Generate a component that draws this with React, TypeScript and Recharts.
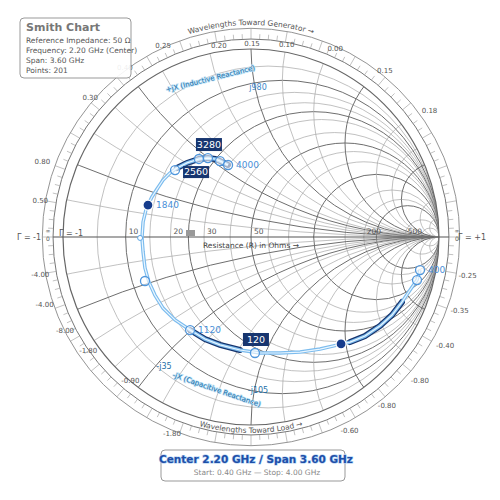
import React from 'react';
import { ScatterChart, Scatter, XAxis, YAxis, Customized } from 'recharts';

const W = 500;
const H = 500;
const CX = 251;
const CY = 237;
const K = 188; // pixels per unit of |Γ|

const FONT = '"DejaVu Sans", "Noto Sans", sans-serif';

// measured reflection coefficient, 0.40 → 4.00 GHz
const traceRe = [
  0.899, 0.883, 0.846, 0.803, 0.75, 0.686, 0.606, 0.527, 0.463, 0.367, 0.261, 0.154, 0.048,
  -0.059, -0.165, -0.245, -0.324, -0.404, -0.468, -0.511, -0.543, -0.564, -0.574, -0.58,
  -0.574, -0.559, -0.548, -0.527, -0.5, -0.468, -0.431, -0.394, -0.34, -0.277, -0.229,
  -0.191, -0.165, -0.122,
];
const traceIm = [
  -0.176, -0.229, -0.282, -0.346, -0.415, -0.473, -0.527, -0.559, -0.574, -0.596, -0.612,
  -0.617, -0.617, -0.601, -0.574, -0.543, -0.495, -0.441, -0.378, -0.309, -0.239, -0.165,
  -0.08, -0.005, 0.08, 0.144, 0.17, 0.213, 0.255, 0.303, 0.34, 0.367, 0.394, 0.415, 0.42,
  0.415, 0.404, 0.383,
];
// stretches of the trace drawn with the dark underlay
const darkRanges = [[3, 7], [13, 16], [31, 37]];

const markerRe = [0.899, 0.883, 0.479, 0.021, -0.324, -0.564, -0.59, -0.548, -0.404, -0.277, -0.229, -0.165, -0.122];
const markerIm = [-0.176, -0.229, -0.569, -0.617, -0.495, -0.234, -0.005, 0.17, 0.356, 0.415, 0.42, 0.404, 0.383];
const markerLabels = ['400', '', '', '120', '1120', '', '', '1840', '2560', '', '3280', '', '4000'];
const markerKinds = ['ring', 'ring', 'dot', 'ring', 'ring', 'ring', 'small', 'dot', 'ring', 'ring', 'ring', 'ring', 'ring'];
const markerSides = ['right', '', '', 'box', 'right', '', '', 'right', 'dark', '', 'box', '', 'right'];

const resistanceTicks = [10, 20, 30, 50, 200, 500];
const rCircles = [0.1, 0.2, 0.3, 0.4, 0.5, 0.6, 0.8, 1, 1.2, 1.5, 2, 3, 4, 5, 10, 20];
const xArcs = [0.1, 0.2, 0.3, 0.4, 0.5, 0.6, 0.8, 1, 1.2, 1.5, 2, 3, 4, 5, 10, 20];
const majorValues = [0.2, 0.5, 1, 2, 5];

const ringLabels = [
  '0.25', '0.20', '0.15', '0.10', '0.00', '0.15', '0.18', '0.40', '0.30', '0.80', '0.50',
  '-4.00', '-4.00', '-8.00', '-1.80', '-0.90', '-1.80', '-0.25', '-0.35', '-0.40', '-0.80',
  '-0.80', '-0.60',
];
const ringAngles = [
  114.6, 99.5, 89.7, 79.5, 66, 51.3, 35.4, 126.5, 139, 160, 170, 190, 198, 206.6, 214.7,
  229.8, 248, 350, 340.7, 331, 319.8, 309, 297,
];
const ringRadii = [
  211, 195, 194, 196, 207, 214, 219, 212, 213, 222, 214, 214, 217, 208, 198, 187, 211,
  220, 221, 222, 221, 216, 217,
];

const trace = traceRe.map((x, i) => ({ x, y: traceIm[i] }));
const markers = markerRe.map((x, i) => ({
  x,
  y: markerIm[i],
  label: markerLabels[i],
  kind: markerKinds[i],
  side: markerSides[i],
}));

const px = (a: number) => CX + K * a;
const polar = (deg: number, r: number) => {
  const t = (deg * Math.PI) / 180;
  return [CX + r * Math.cos(t), CY - r * Math.sin(t)];
};

const SmithGrid = () => {
  const ticks = [];
  for (let d = 0; d < 360; d += 2.5) {
    const long = d % 10 === 0;
    const [x1, y1] = polar(d, K * 1.053);
    const [x2, y2] = polar(d, long ? K * 1.11 : K * 1.08);
    ticks.push(<line key={d} x1={x1} y1={y1} x2={x2} y2={y2} stroke="#999" strokeWidth={0.6} />);
  }
  const topArc = `M ${polar(150, 212).join(' ')} A 212 212 0 0 1 ${polar(30, 212).join(' ')}`;
  const botArc = `M ${polar(215, 199).join(' ')} A 199 199 0 0 0 ${polar(325, 199).join(' ')}`;
  return (
    <g fontFamily={FONT}>
      <defs>
        <clipPath id="unitDisc">
          <circle cx={CX} cy={CY} r={K} />
        </clipPath>
        <path id="topArc" d={topArc} />
        <path id="botArc" d={botArc} />
      </defs>
      <g clipPath="url(#unitDisc)" fill="none">
        {rCircles.map((r) => (
          <circle
            key={'r' + r}
            cx={CX + (K * r) / (1 + r)}
            cy={CY}
            r={K / (1 + r)}
            stroke={majorValues.includes(r) ? '#6e6e6e' : '#a6a6a6'}
            strokeWidth={majorValues.includes(r) ? 1 : 0.7}
          />
        ))}
        {xArcs.flatMap((x) => [x, -x]).map((x) => (
          <circle
            key={'x' + x}
            cx={CX + K}
            cy={CY - K / x}
            r={K / Math.abs(x)}
            stroke={majorValues.includes(Math.abs(x)) ? '#6e6e6e' : '#a6a6a6'}
            strokeWidth={majorValues.includes(Math.abs(x)) ? 1 : 0.7}
          />
        ))}
      </g>
      <circle cx={CX} cy={CY} r={K} fill="none" stroke="#666" strokeWidth={1.2} />
      <circle cx={CX} cy={CY} r={K * 1.053} fill="none" stroke="#777" strokeWidth={1} />
      <circle cx={CX} cy={CY} r={K * 1.11} fill="none" stroke="#888" strokeWidth={0.9} />
      {ticks}
      <line x1={CX - K * 1.053} y1={CY} x2={CX + K * 1.053} y2={CY} stroke="#555" strokeWidth={1.2} />
      {resistanceTicks.map((r) => {
        const g = (r / 50 - 1) / (r / 50 + 1);
        return (
          <text key={r} x={px(g) + 3} y={CY - 3} fontSize={7.5} fill="#555">
            {r}
          </text>
        );
      })}
      <text x={CX} y={CY + 11} fontSize={7.5} fill="#444" textAnchor="middle">
        Resistance (R) in Ohms →
      </text>
      <rect x={186} y={230} width={9} height={6} fill="#999" />
      {ringLabels.map((t, i) => {
        const [x, y] = polar(ringAngles[i], ringRadii[i]);
        return (
          <text key={i} x={x} y={y + 3} fontSize={7} fill="#555" textAnchor="middle">
            {t}
          </text>
        );
      })}
      <text fontSize={7.5} fill="#555">
        <textPath href="#topArc" startOffset="50%" textAnchor="middle">
          Wavelengths Toward Generator →
        </textPath>
      </text>
      <text fontSize={7.5} fill="#555" dy={-3}>
        <textPath href="#botArc" startOffset="50%" textAnchor="middle">
          Wavelengths Toward Load →
        </textPath>
      </text>
      <text x={29} y={240} fontSize={8} fill="#555" textAnchor="middle">Γ = -1</text>
      <text x={71} y={236} fontSize={8} fill="#555" textAnchor="middle">Γ = -1</text>
      <text x={472} y={240} fontSize={8} fill="#555" textAnchor="middle">Γ = +1</text>
      <text x={48} y={233} fontSize={6} fill="#555" textAnchor="middle">∞</text>
      <text x={48} y={241} fontSize={6} fill="#555" textAnchor="middle">0</text>
      <text x={457} y={233} fontSize={6} fill="#555" textAnchor="middle">∞</text>
      <text x={457} y={241} fontSize={6} fill="#555" textAnchor="middle">0</text>
    </g>
  );
};

const Annotations = () => (
  <g fontFamily={FONT}>
    <text
      x={211}
      y={81}
      fontSize={7}
      fill="#1d6fa8"
      stroke="#bfe3f7"
      strokeWidth={1.5}
      paintOrder="stroke"
      textAnchor="middle"
      transform="rotate(-14 211 81)"
    >
      +jX (Inductive Reactance)
    </text>
    <text x={258} y={90} fontSize={8} fill="#3b86c9" textAnchor="middle">j980</text>
    <text
      x={216}
      y={392}
      fontSize={7}
      fill="#1d6fa8"
      stroke="#bfe3f7"
      strokeWidth={1.5}
      paintOrder="stroke"
      textAnchor="middle"
      transform="rotate(19 216 392)"
    >
      -jX (Capacitive Reactance)
    </text>
    <text x={164} y={369} fontSize={8} fill="#1d6fa8" textAnchor="middle">-j35</text>
    <text x={258} y={393} fontSize={8} fill="#1d6fa8" textAnchor="middle">-j105</text>

    <rect x={20} y={18} width={111} height={60} rx={4} fill="#fff" fillOpacity={0.9} stroke="#999" />
    <text x={26} y={31} fontSize={11} fontWeight="bold" fill="#777">Smith Chart</text>
    <text x={26} y={43} fontSize={7.5} fill="#555">Reference Impedance: 50 Ω</text>
    <text x={26} y={53} fontSize={7.5} fill="#555">Frequency: 2.20 GHz (Center)</text>
    <text x={26} y={63} fontSize={7.5} fill="#555">Span: 3.60 GHz</text>
    <text x={26} y={73} fontSize={7.5} fill="#555">Points: 201</text>

    <rect x={161} y={450} width={184} height={31} rx={4} fill="#fff" stroke="#999" />
    <text
      x={256}
      y={463}
      fontSize={10.5}
      fontWeight="bold"
      fill="#1e4fa8"
      stroke="#a9cdf2"
      strokeWidth={1.2}
      paintOrder="stroke"
      textAnchor="middle"
    >
      Center 2.20 GHz  /  Span 3.60 GHz
    </text>
    <text x={257} y={475} fontSize={7.5} fill="#888" textAnchor="middle">
      Start: 0.40 GHz — Stop: 4.00 GHz
    </text>
  </g>
);

const NoShape = () => <g />;

const MarkerShape = (props: any) => {
  const { cx, cy, payload } = props;
  const { kind, label, side } = payload;
  let mark;
  if (kind === 'dot') {
    mark = <circle cx={cx} cy={cy} r={5} fill="#163c8c" stroke="#fff" strokeWidth={1.2} />;
  } else if (kind === 'small') {
    mark = <circle cx={cx} cy={cy} r={2.5} fill="#fff" stroke="#5aa6e6" strokeWidth={1} />;
  } else {
    mark = <circle cx={cx} cy={cy} r={4.5} fill="#fff" fillOpacity={0.6} stroke="#4f96dc" strokeWidth={1.3} />;
  }
  let text = null;
  if (label && side === 'right') {
    text = (
      <text x={cx + 8} y={cy + 3} fontSize={9} fill="#4a8fd8" fontFamily={FONT}>
        {label}
      </text>
    );
  } else if (label && side === 'box') {
    text = (
      <g fontFamily={FONT}>
        <rect x={cx - 12} y={cy - 20} width={26} height={13} fill="#17356f" />
        <text x={cx + 1} y={cy - 10} fontSize={9.5} fill="#fff" textAnchor="middle">
          {label}
        </text>
      </g>
    );
  } else if (label && side === 'dark') {
    text = (
      <g fontFamily={FONT}>
        <rect x={cx + 8} y={cy - 4} width={26} height={12} fill="#17356f" />
        <text x={cx + 21} y={cy + 5} fontSize={9.5} fill="#fff" textAnchor="middle">
          {label}
        </text>
      </g>
    );
  }
  return (
    <g>
      {mark}
      {text}
    </g>
  );
};

export default function App() {
  return (
    <div style={{ width: W, height: H }}>
      <style>{'body{margin:0}'}</style>
      <ScatterChart width={W} height={H} margin={{ top: 0, right: 0, bottom: 0, left: 0 }}>
        <XAxis type="number" dataKey="x" domain={[-CX / K, (W - CX) / K]} hide allowDataOverflow />
        <YAxis type="number" dataKey="y" domain={[-(H - CY) / K, CY / K]} hide allowDataOverflow />
        <Customized component={SmithGrid} />
        {darkRanges.map(([a, b]) => (
          <Scatter
            key={'d' + a}
            data={trace.slice(a, b + 1)}
            line={{ stroke: '#17356f', strokeWidth: 6, strokeLinecap: 'round' }}
            shape={NoShape}
            isAnimationActive={false}
          />
        ))}
        <Scatter
          data={trace}
          line={{ stroke: '#7cbcee', strokeWidth: 3.5 }}
          shape={NoShape}
          isAnimationActive={false}
        />
        <Scatter
          data={trace}
          line={{ stroke: '#eaf6ff', strokeWidth: 1.2 }}
          shape={NoShape}
          isAnimationActive={false}
        />
        <Scatter data={markers} shape={MarkerShape} isAnimationActive={false} />
        <Customized component={Annotations} />
      </ScatterChart>
    </div>
  );
}
